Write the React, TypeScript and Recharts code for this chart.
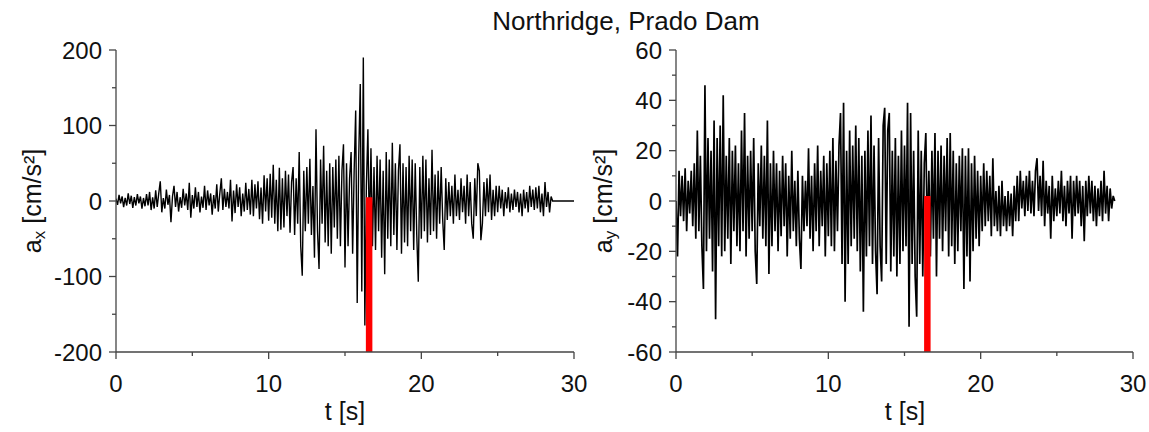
import React from 'react';
import { LineChart, Line, XAxis, YAxis, ReferenceLine } from 'recharts';

const TITLE = 'Northridge, Prado Dam';
const SAMPLE_DT = 0.1;

// a_x [cm/s²], sampled every 0.1 s from t = 0 s to t = 30 s
const AX_VALUES = [
  3, -5, 8, -3, 6, -8, 4, -6, 10, -4,
  7, -9, 5, -6, 9, -3, 6, -10, 4, -7,
  9, -6, 12, -12, 5, -10, 14, -8, 10, 26,
  -15, 4, -10, 15, -5, 8, -28, 6, 20, -8,
  12, -14, 5, -9, 16, -6, 10, -12, 24, -22,
  8, -10, 18, -8, 12, -15, 6, -9, 20, -12,
  14, -6, 10, -18, 8, -10, 22, -14, 10, 30,
  -12, 16, -8, 12, -10, 28, -27, 14, -16, 22,
  -8, 18, -20, 10, -14, 24, -12, 16, -18, 28,
  -20, 22, -10, 26, -24, 18, -30, 34, -14, 30,
  -26, 36, -22, 48, -30, 28, -40, 44, -38, 30,
  -35, 40, -20, 35, -42, 25, 45, -45, 30, -30,
  65, -60, -99, 40, -40, 45, -30, 56, -45, 20,
  -75, 95, -40, -90, 55, -30, 73, -55, 40, -60,
  50, -70, 45, -35, 55, -50, 60, -60, 40, 75,
  -88, 50, -60, 30, 65, -70, 40, 120, -135, 60,
  155, -120, 190, -165, 20, 95, -50, 70, -60, 45,
  -65, 60, -40, 55, -75, 40, -97, 65, -50, 55,
  -60, 77, -45, 50, -65, 40, 75, -70, 50, -55,
  45, -60, 60, -40, 55, -65, 50, -45, -107, 45,
  -50, 60, -40, 55, -55, 30, -45, 68, -40, 35,
  -50, 40, -30, 45, -25, -65, 30, -25, 25, -20,
  20, -30, 35, -20, 15, -25, 30, -15, 20, -30,
  35, -20, 25, -30, -50, 30, -20, 50, 40, -52,
  -30, 25, -20, 30, -15, 35, -25, 15, -20, 20,
  -15, 20, -10, 15, -20, 12, -10, 18, -15, 10,
  -12, 15, -8, 12, -15, 10, -20, 15, -10, 12,
  -15, 20, -8, 15, -12, 18, -10, 20, -15, 10,
  -20, 25, -8, 12, -15, 6, 0, 0, 0, 0,
  0, 0, 0, 0, 0, 0, 0, 0, 0, 0,
  0,
];

// a_y [cm/s²], sampled every 0.1 s from t = 0 s to t = 28.8 s
const AY_VALUES = [
  0, -22, 12, -6, 10, -8, 13, -12, 8, -5,
  12, -10, 15, -15, 28, -12, 18, -18, -35, 46,
  -20, 25, -15, 20, -28, 32, -47, 25, -18, 30,
  -22, 42, -20, 18, -15, 25, -25, 20, -12, 22,
  -18, 15, -20, 28, -12, 35, -22, 18, -15, 20,
  -12, 25, -20, -33, 15, -10, 22, -15, 18, -18,
  32, -29, 15, -18, 20, -12, 15, -20, 12, -14,
  18, -10, 15, -22, 10, -15, 20, -12, 8, -18,
  12, -15, -27, 10, -12, 8, -10, 21, -15, 10,
  -20, 15, -12, 22, -18, 12, -10, 18, -22, 15,
  -14, 20, -18, 25, -20, 16, -12, 22, 35, -25,
  39, -40, 20, -25, 28, -18, 22, -15, 30, -20,
  25, -28, 18, -44, 20, -22, 28, -18, 34, -25,
  22, -20, -37, 25, -18, -32, 30, 37, -25, 28,
  35, -28, 20, -22, 25, -30, 18, -25, 28, -20,
  22, -18, 39, -50, 35, -25, 20, -30, -46, 28,
  -25, 20, -30, 15, 27, -18, 12, -22, 20, -15,
  27, -30, 20, -15, 22, -20, 18, -12, 25, -22,
  27, -18, 20, -25, 15, -20, 18, -12, 21, -35,
  18, -22, 21, -32, 15, -20, 18, -15, 12, -18,
  10, -12, 15, -10, 12, -8, 10, -14, 17, -10,
  4, -12, 6, -14, 8, -10, 2, -12, 4, -10,
  3, -14, 6, -8, 10, -8, 12, -3, 8, -6,
  10, -4, 12, -5, 8, -6, 12, 17, -4, 10,
  -6, 16, -10, 8, -5, 6, -15, 10, -8, 5,
  -6, 8, -5, 12, -8, 6, -10, 8, -5, 10,
  -15, 8, -6, 10, -5, 8, -10, 6, -16, 8,
  -6, 10, -5, 8, -8, 6, -10, 5, -6, 8,
  -8, 12, -5, 6, -8, 5, -3, 2, 0,
];

const T_TICKS = [0, 5, 10, 15, 20, 25, 30];
const T_MAJOR = [0, 10, 20, 30];
const AX_TICKS = [-200, -150, -100, -50, 0, 50, 100, 150, 200];
const AX_MAJOR = [-200, -100, 0, 100, 200];
const AY_TICKS = [-60, -50, -40, -30, -20, -10, 0, 10, 20, 30, 40, 50, 60];
const AY_MAJOR = [-60, -40, -20, 0, 20, 40, 60];

// red marker bars: time, top value, bottom value
const AX_MARK = { t: 16.58, top: 5, bottom: -200 };
const AY_MARK = { t: 16.5, top: 2, bottom: -60 };

const FONT = '"Liberation Sans", Arial, sans-serif';
const AXIS_COLOR = '#444';
const TICK_FS = 24;

const toRows = (vals: number[]) =>
  vals.map((v, i) => ({ t: Math.round(i * SAMPLE_DT * 10) / 10, v }));

const AX_ROWS = toRows(AX_VALUES);
const AY_ROWS = toRows(AY_VALUES);

const makeYTick = (majors: number[]) => (props: any) => {
  const { x, y, payload } = props;
  const major = majors.includes(payload.value);
  return (
    <g>
      <line x1={x} x2={x - (major ? 7 : 4)} y1={y} y2={y} stroke={AXIS_COLOR} strokeWidth={1.3} />
      {major && (
        <text x={x - 14} y={y} textAnchor="end" dominantBaseline="central" fontSize={TICK_FS} fontFamily={FONT} fill="#111">
          {payload.value}
        </text>
      )}
    </g>
  );
};

const makeXTick = (majors: number[]) => (props: any) => {
  const { x, y, payload } = props;
  const major = majors.includes(payload.value);
  return (
    <g>
      <line x1={x} x2={x} y1={y} y2={y + (major ? 7 : 4)} stroke={AXIS_COLOR} strokeWidth={1.3} />
      {major && (
        <text x={x} y={y + 31} textAnchor="middle" dominantBaseline="central" fontSize={TICK_FS} fontFamily={FONT} fill="#111">
          {payload.value}
        </text>
      )}
    </g>
  );
};

const yLabel = (cx: number, cy: number, sub: string) => () => (
  <text
    transform={`rotate(-90, ${cx}, ${cy})`}
    x={cx}
    y={cy}
    textAnchor="middle"
    dominantBaseline="central"
    fontSize={25}
    fontFamily={FONT}
    fill="#111"
  >
    a<tspan fontSize={17} dy={7}>{sub}</tspan>
    <tspan dy={-7}> [cm/s²]</tspan>
  </text>
);

const xLabel = (cx: number, cy: number) => () => (
  <text x={cx} y={cy} textAnchor="middle" dominantBaseline="central" fontSize={25} fontFamily={FONT} fill="#111">
    t [s]
  </text>
);

interface PanelProps {
  rows: { t: number; v: number }[];
  yTicks: number[];
  yMajor: number[];
  yDomain: [number, number];
  mark: { t: number; top: number; bottom: number };
  width: number;
  margin: { top: number; right: number; bottom: number; left: number };
  yLabelPos: [number, number];
  xLabelPos: [number, number];
  sub: string;
  lineWidth: number;
}

const Panel = ({ rows, yTicks, yMajor, yDomain, mark, width, margin, yLabelPos, xLabelPos, sub, lineWidth }: PanelProps) => (
  <LineChart width={width} height={432} data={rows} margin={margin}>
    <XAxis
      dataKey="t"
      type="number"
      domain={[0, 30]}
      ticks={T_TICKS}
      interval={0}
      tickSize={0}
      tickMargin={0}
      tickLine={false}
      axisLine={{ stroke: AXIS_COLOR, strokeWidth: 1.3 }}
      tick={makeXTick(T_MAJOR)}
      height={50}
      allowDataOverflow
      label={{ content: xLabel(xLabelPos[0], xLabelPos[1]) }}
    />
    <YAxis
      type="number"
      domain={yDomain}
      ticks={yTicks}
      interval={0}
      tickSize={0}
      tickMargin={0}
      tickLine={false}
      axisLine={{ stroke: AXIS_COLOR, strokeWidth: 1.3 }}
      tick={makeYTick(yMajor)}
      width={66}
      allowDataOverflow
      label={{ content: yLabel(yLabelPos[0], yLabelPos[1], sub) }}
    />
    <Line
      dataKey="v"
      type="linear"
      stroke="#000"
      strokeWidth={lineWidth}
      dot={false}
      activeDot={false}
      isAnimationActive={false}
    />
    <ReferenceLine
      segment={[
        { x: mark.t, y: mark.top },
        { x: mark.t, y: mark.bottom },
      ]}
      stroke="#ff0000"
      strokeWidth={6.5}
      ifOverflow="visible"
    />
  </LineChart>
);

export default function App() {
  return (
    <div style={{ position: 'absolute', left: 0, top: 0, width: 1149, height: 432, background: '#fff', overflow: 'hidden' }}>
      <div style={{ position: 'absolute', left: 580, top: 0 }}>
        <Panel
          rows={AY_ROWS}
          yTicks={AY_TICKS}
          yMajor={AY_MAJOR}
          yDomain={[-60, 60]}
          mark={AY_MARK}
          width={569}
          margin={{ top: 50, right: 16, bottom: 30, left: 30 }}
          yLabelPos={[23, 201]}
          xLabelPos={[325, 411]}
          sub="y"
          lineWidth={1.7}
        />
      </div>
      <div style={{ position: 'absolute', left: 0, top: 0 }}>
        <Panel
          rows={AX_ROWS}
          yTicks={AX_TICKS}
          yMajor={AX_MAJOR}
          yDomain={[-200, 200]}
          mark={AX_MARK}
          width={600}
          margin={{ top: 50, right: 26, bottom: 30, left: 50 }}
          yLabelPos={[32, 201]}
          xLabelPos={[345, 411]}
          sub="x"
          lineWidth={1.4}
        />
      </div>
      <svg style={{ position: 'absolute', left: 0, top: 0 }} width={1149} height={50}>
        <text x={626} y={21} textAnchor="middle" dominantBaseline="central" fontSize={26} fontFamily={FONT} fill="#111">
          {TITLE}
        </text>
      </svg>
    </div>
  );
}
